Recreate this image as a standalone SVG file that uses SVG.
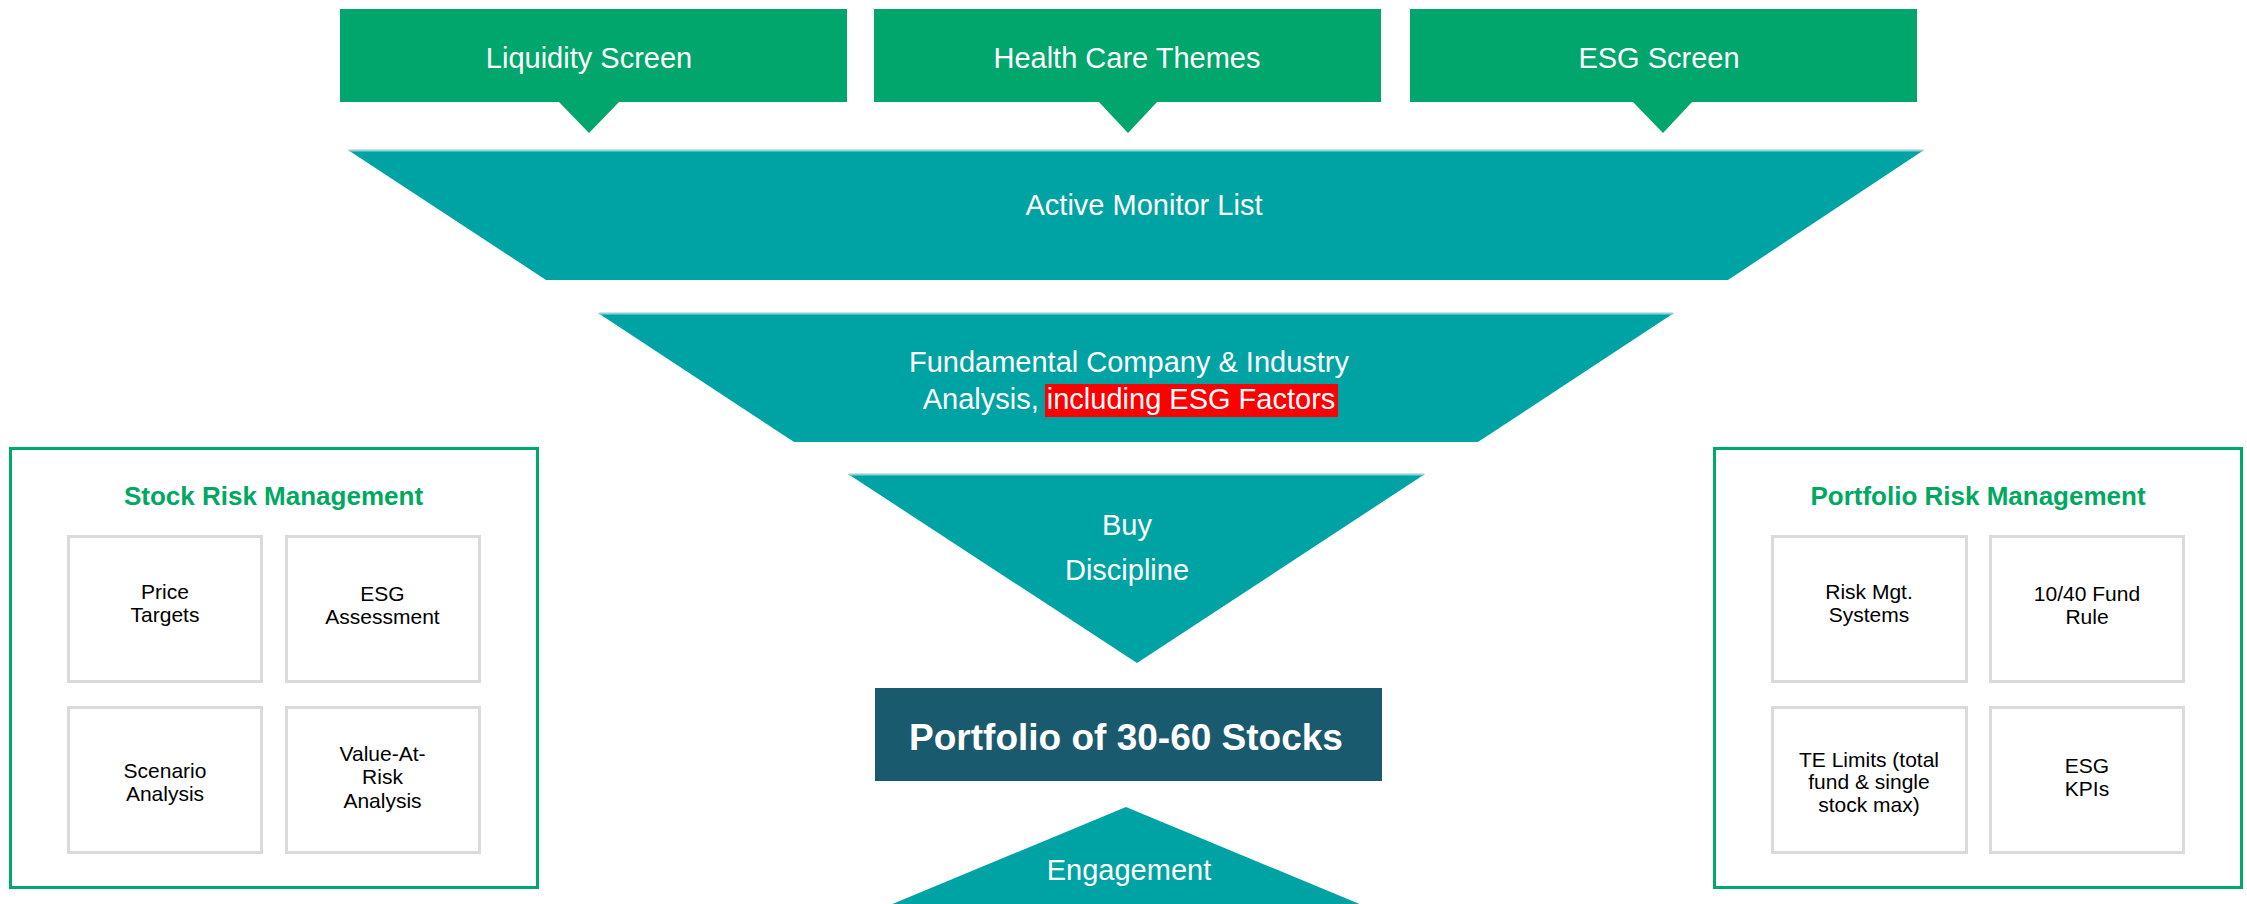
<svg xmlns="http://www.w3.org/2000/svg" width="2247" height="904" viewBox="0 0 2247 904">
<style>
.t{font-family:"Liberation Sans",Arial,sans-serif;text-anchor:middle}
.w{fill:#FFFFFF;font-size:29px}
.green{fill:#00A66B}
.teal{fill:#00A3A4}
.hl{stroke:#8CD3D3;stroke-width:2}
.panel{fill:#FFFFFF;stroke:#00A86B;stroke-width:3}
.ptitle{fill:#00A862;font-size:26px;font-weight:bold}
.ibox{fill:#FFFFFF;stroke:#DADADA;stroke-width:3}
.it{fill:#000000;font-size:21px}
</style>
<rect width="2247" height="904" fill="#FFFFFF"/>
<g id="liquidity-screen">
<rect class="green" x="340" y="9" width="507" height="93"/>
<polygon class="green" points="558,101 620,101 589,133"/>
<text class="t w" x="589" y="68">Liquidity Screen</text>
</g>
<g id="health-care-themes">
<rect class="green" x="874" y="9" width="507" height="93"/>
<polygon class="green" points="1098,101 1158,101 1128,133"/>
<text class="t w" x="1127" y="68">Health Care Themes</text>
</g>
<g id="esg-screen">
<rect class="green" x="1410" y="9" width="507" height="93"/>
<polygon class="green" points="1632,101 1693,101 1663,133"/>
<text class="t w" x="1659" y="68">ESG Screen</text>
</g>
<g id="active-monitor-list">
<polygon class="teal" points="348,150 1924,150 1728,280 546,280"/>
<line class="hl" x1="349" y1="150.5" x2="1923" y2="150.5"/>
<text class="t w" x="1144" y="215">Active Monitor List</text>
</g>
<g id="fundamental-analysis">
<polygon class="teal" points="598,313 1674,313 1478,442 794,442"/>
<line class="hl" x1="599" y1="313.5" x2="1673" y2="313.5"/>
<rect x="1045" y="384" width="293" height="33" fill="#FF0000"/>
<text class="t w" x="1129" y="372">Fundamental Company &amp; Industry</text>
<text class="t w" x="1129" y="409">Analysis, including ESG Factors</text>
</g>
<g id="buy-discipline">
<polygon class="teal" points="848,474 1425,474 1137,663"/>
<line class="hl" x1="849" y1="474.5" x2="1424" y2="474.5"/>
<text class="t w" x="1127" y="535">Buy</text>
<text class="t w" x="1127" y="580">Discipline</text>
</g>
<g id="portfolio">
<rect x="875" y="688" width="507" height="93" fill="#1A5A6F"/>
<text class="t" x="1126" y="750" fill="#FFFFFF" font-size="37" font-weight="bold">Portfolio of 30-60 Stocks</text>
</g>
<g id="engagement">
<polygon class="teal" points="1126,807 1362,905 890,905"/>
<text class="t w" x="1129" y="880">Engagement</text>
</g>
<g id="stock-risk-management">
<rect class="panel" x="10.5" y="448.5" width="527" height="439"/>
<text class="t ptitle" x="273.5" y="505">Stock Risk Management</text>
<g id="price-targets">
<rect class="ibox" x="68.5" y="536.5" width="193" height="145"/>
<text class="t it" x="165" y="599">Price</text>
<text class="t it" x="165" y="622">Targets</text>
</g>
<g id="esg-assessment">
<rect class="ibox" x="286.5" y="536.5" width="193" height="145"/>
<text class="t it" x="382.5" y="601">ESG</text>
<text class="t it" x="382.5" y="624">Assessment</text>
</g>
<g id="scenario-analysis">
<rect class="ibox" x="68.5" y="707.5" width="193" height="145"/>
<text class="t it" x="165" y="778">Scenario</text>
<text class="t it" x="165" y="801">Analysis</text>
</g>
<g id="value-at-risk">
<rect class="ibox" x="286.5" y="707.5" width="193" height="145"/>
<text class="t it" x="382.5" y="761">Value-At-</text>
<text class="t it" x="382.5" y="784">Risk</text>
<text class="t it" x="382.5" y="808">Analysis</text>
</g>
</g>
<g id="portfolio-risk-management">
<rect class="panel" x="1714.5" y="448.5" width="527" height="439"/>
<text class="t ptitle" x="1978" y="505">Portfolio Risk Management</text>
<g id="risk-mgt-systems">
<rect class="ibox" x="1772.5" y="536.5" width="194" height="145"/>
<text class="t it" x="1869" y="599">Risk Mgt.</text>
<text class="t it" x="1869" y="622">Systems</text>
</g>
<g id="fund-rule">
<rect class="ibox" x="1990.5" y="536.5" width="193" height="145"/>
<text class="t it" x="2087" y="601">10/40 Fund</text>
<text class="t it" x="2087" y="624">Rule</text>
</g>
<g id="te-limits">
<rect class="ibox" x="1772.5" y="707.5" width="194" height="145"/>
<text class="t it" x="1869" y="767">TE Limits (total</text>
<text class="t it" x="1869" y="789">fund &amp; single</text>
<text class="t it" x="1869" y="812">stock max)</text>
</g>
<g id="esg-kpis">
<rect class="ibox" x="1990.5" y="707.5" width="193" height="145"/>
<text class="t it" x="2087" y="773">ESG</text>
<text class="t it" x="2087" y="796">KPIs</text>
</g>
</g>
<g id="connectors"></g>
</svg>
